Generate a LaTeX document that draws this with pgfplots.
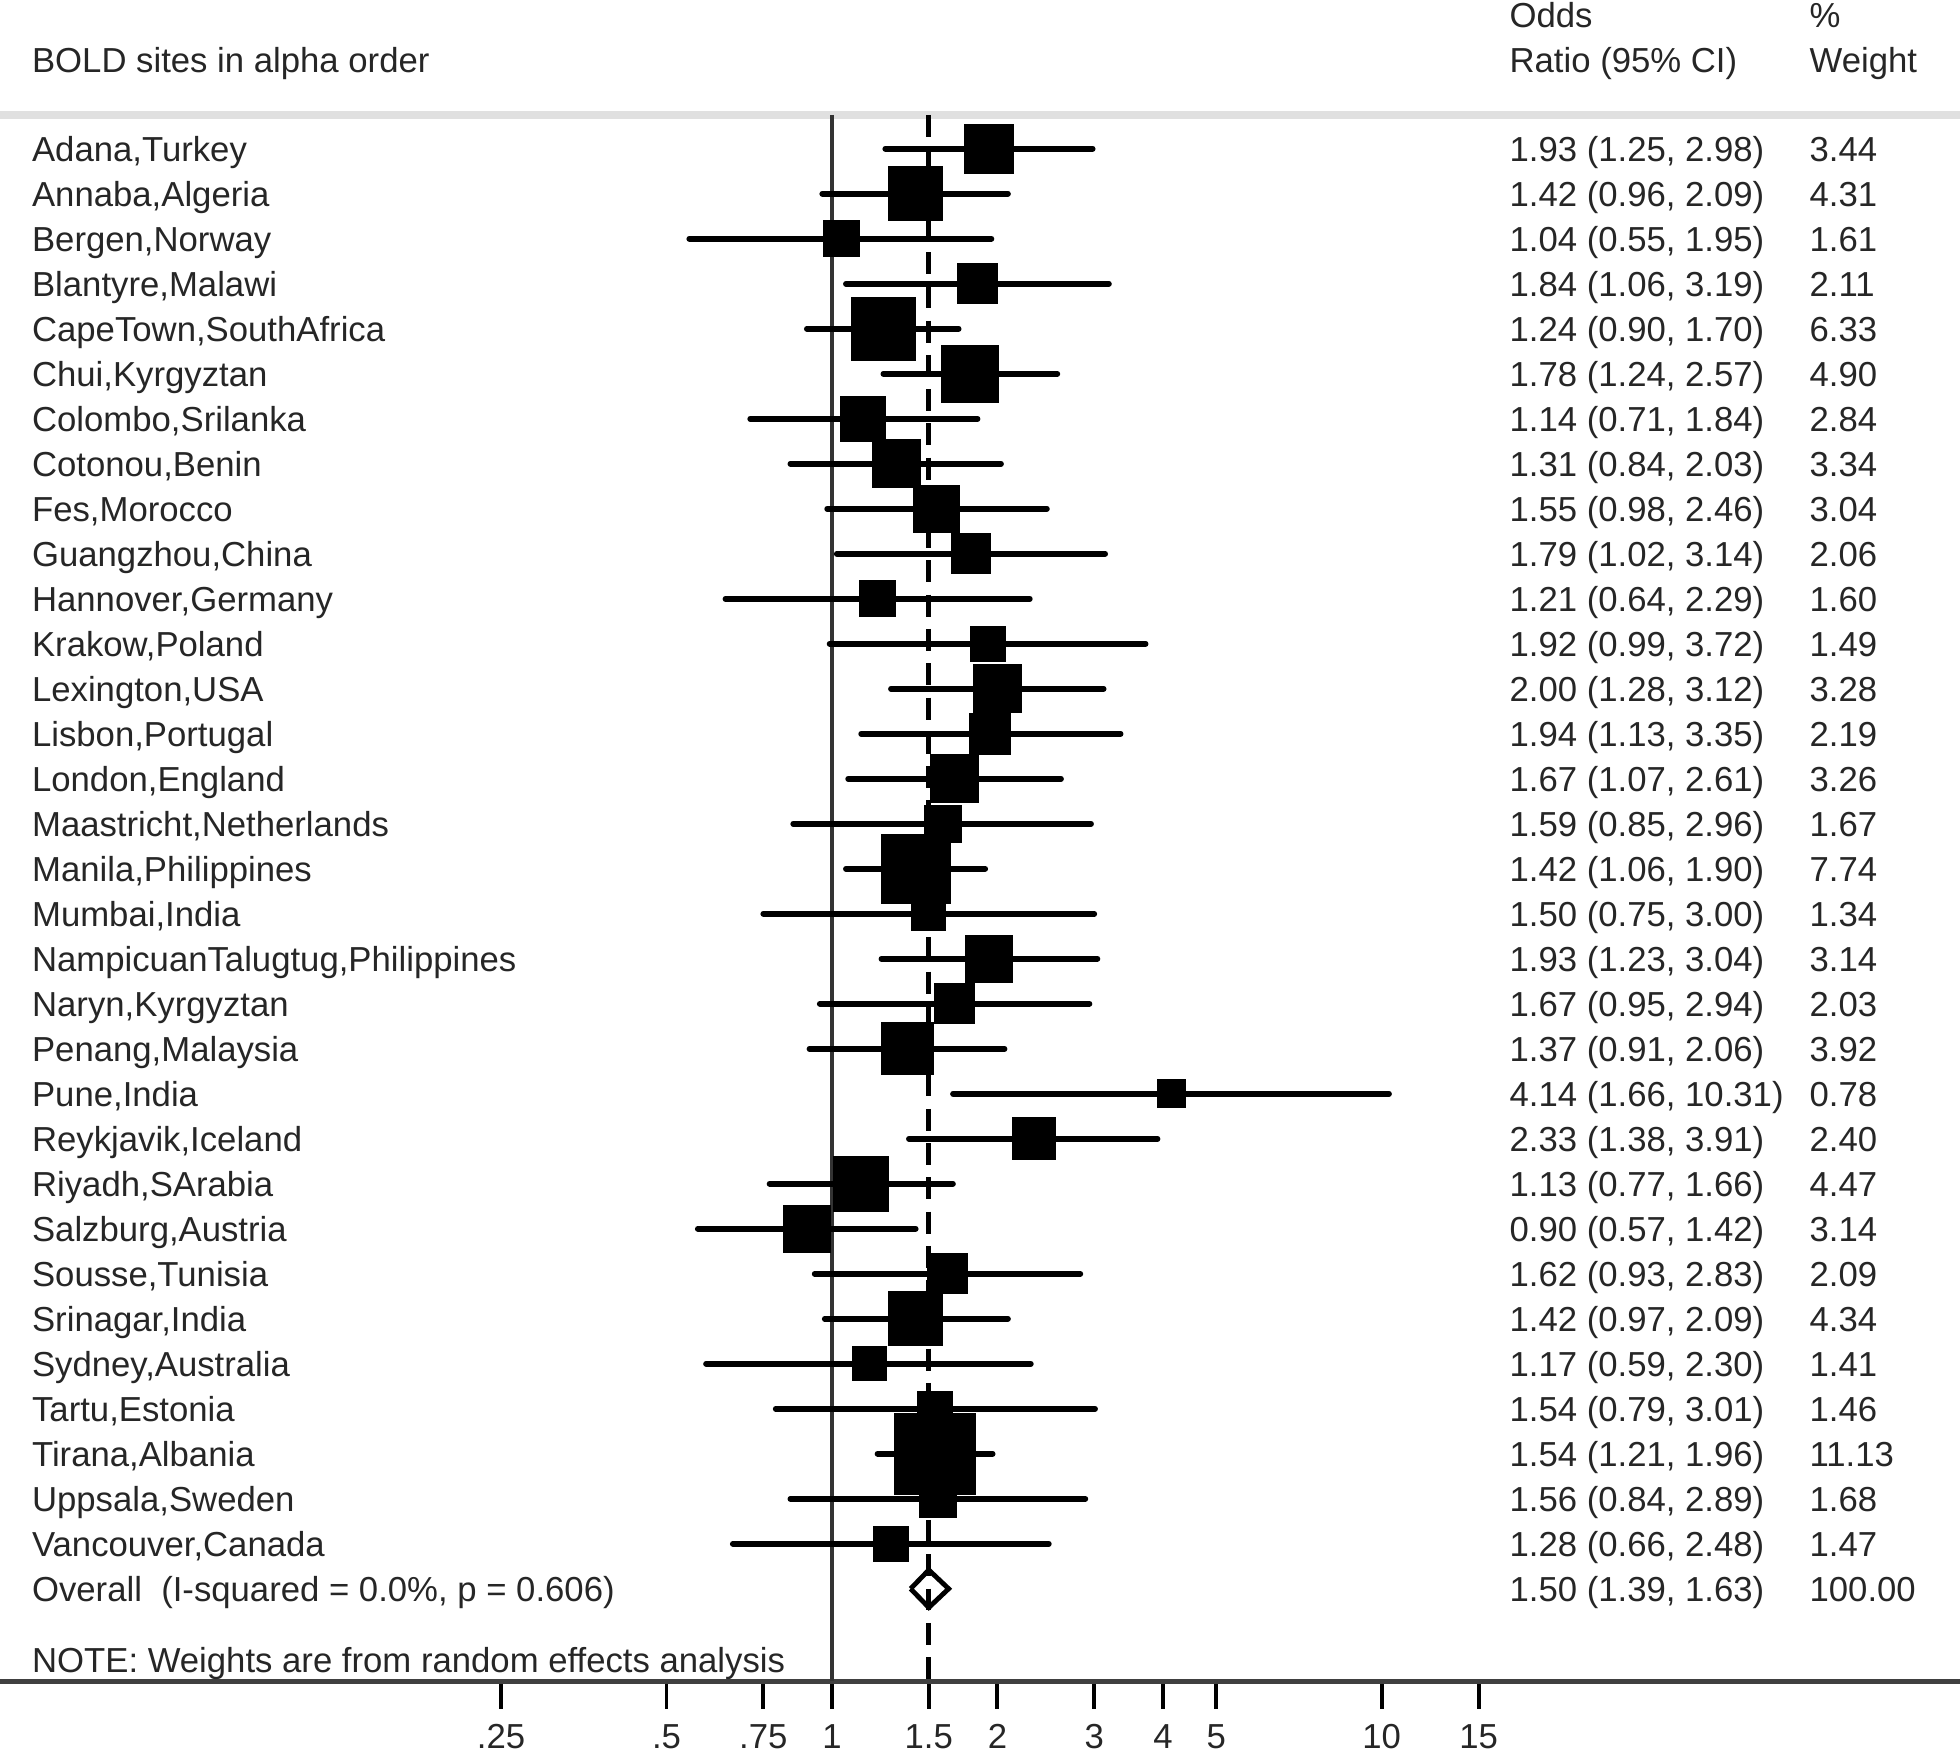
\documentclass[border=0pt]{standalone}
\usepackage{pgfplots}
\usepackage{pgfplotstable}
\pgfplotsset{compat=1.18}
\usepackage{fontspec}
\setmainfont{Liberation Sans}

% one row per site: row, odds ratio, 95% CI, weight, label, CI text
\pgfplotstableread[col sep=semicolon]{
row;or;lo;hi;w;site;ci
1;1.93;1.25;2.98;3.44;Adana,Turkey;1.93 (1.25, 2.98)
2;1.42;0.96;2.09;4.31;Annaba,Algeria;1.42 (0.96, 2.09)
3;1.04;0.55;1.95;1.61;Bergen,Norway;1.04 (0.55, 1.95)
4;1.84;1.06;3.19;2.11;Blantyre,Malawi;1.84 (1.06, 3.19)
5;1.24;0.90;1.70;6.33;CapeTown,SouthAfrica;1.24 (0.90, 1.70)
6;1.78;1.24;2.57;4.90;Chui,Kyrgyztan;1.78 (1.24, 2.57)
7;1.14;0.71;1.84;2.84;Colombo,Srilanka;1.14 (0.71, 1.84)
8;1.31;0.84;2.03;3.34;Cotonou,Benin;1.31 (0.84, 2.03)
9;1.55;0.98;2.46;3.04;Fes,Morocco;1.55 (0.98, 2.46)
10;1.79;1.02;3.14;2.06;Guangzhou,China;1.79 (1.02, 3.14)
11;1.21;0.64;2.29;1.60;Hannover,Germany;1.21 (0.64, 2.29)
12;1.92;0.99;3.72;1.49;Krakow,Poland;1.92 (0.99, 3.72)
13;2.00;1.28;3.12;3.28;Lexington,USA;2.00 (1.28, 3.12)
14;1.94;1.13;3.35;2.19;Lisbon,Portugal;1.94 (1.13, 3.35)
15;1.67;1.07;2.61;3.26;London,England;1.67 (1.07, 2.61)
16;1.59;0.85;2.96;1.67;Maastricht,Netherlands;1.59 (0.85, 2.96)
17;1.42;1.06;1.90;7.74;Manila,Philippines;1.42 (1.06, 1.90)
18;1.50;0.75;3.00;1.34;Mumbai,India;1.50 (0.75, 3.00)
19;1.93;1.23;3.04;3.14;NampicuanTalugtug,Philippines;1.93 (1.23, 3.04)
20;1.67;0.95;2.94;2.03;Naryn,Kyrgyztan;1.67 (0.95, 2.94)
21;1.37;0.91;2.06;3.92;Penang,Malaysia;1.37 (0.91, 2.06)
22;4.14;1.66;10.31;0.78;Pune,India;4.14 (1.66, 10.31)
23;2.33;1.38;3.91;2.40;Reykjavik,Iceland;2.33 (1.38, 3.91)
24;1.13;0.77;1.66;4.47;Riyadh,SArabia;1.13 (0.77, 1.66)
25;0.90;0.57;1.42;3.14;Salzburg,Austria;0.90 (0.57, 1.42)
26;1.62;0.93;2.83;2.09;Sousse,Tunisia;1.62 (0.93, 2.83)
27;1.42;0.97;2.09;4.34;Srinagar,India;1.42 (0.97, 2.09)
28;1.17;0.59;2.30;1.41;Sydney,Australia;1.17 (0.59, 2.30)
29;1.54;0.79;3.01;1.46;Tartu,Estonia;1.54 (0.79, 3.01)
30;1.54;1.21;1.96;11.13;Tirana,Albania;1.54 (1.21, 1.96)
31;1.56;0.84;2.89;1.68;Uppsala,Sweden;1.56 (0.84, 2.89)
32;1.28;0.66;2.48;1.47;Vancouver,Canada;1.28 (0.66, 2.48)
}\sites

\tikzset{lab/.style={font=\fontsize{7.9}{9}\selectfont, text=black!85,
  inner sep=0pt, anchor=base west, yshift=-2.83pt}}

\begin{document}
\begin{tikzpicture}
\path[use as bounding box] (0,0) rectangle (15.68,14.02);
\clip (0,0) rectangle (15.68,14.02);
\begin{axis}[
  at={(0,0.57cm)}, anchor=south west,
  scale only axis, width=15.68cm, height=13.45cm,
  xmode=log, xmin=0.030659, xmax=112.69,
  ymin=-35.056, ymax=2.3056,
  axis y line=none, axis x line=bottom,
  x axis line style={-, black!75, line width=1.2pt},
  xtick={0.25,0.5,0.75,1,1.5,2,3,4,5,10,15},
  xticklabels={.25,.5,.75,1,1.5,2,3,4,5,10,15},
  minor xtick={},
  tick align=outside, major tick length=0.22cm,
  major tick style={black, line width=0.9pt},
  xticklabel style={font=\fontsize{7.9}{9}\selectfont, text=black!85},
  clip=false,
]
% header rule, null line and overall line
\addplot[black!12, line width=1.7pt] coordinates {(0.030659,-0.25) (112.69,-0.25)};
\addplot[black!80, line width=1pt] coordinates {(1,-0.25) (1,-35.056)};
\addplot[black, line width=1.2pt, dash pattern=on 5pt off 2.8pt] coordinates {(1.5,-0.25) (1.5,-35.056)};

% confidence intervals
\addplot[only marks, mark=none,
  error bars/x dir=both, error bars/x explicit,
  error bars/error mark=none,
  error bars/error bar style={black, line width=1.3pt, line cap=round}]
  table[x=or, y expr=-\thisrow{row},
        x error plus expr=\thisrow{hi}-\thisrow{or},
        x error minus expr=\thisrow{or}-\thisrow{lo}] {\sites};

% weighted squares
\addplot[scatter, only marks, mark=square*,
  scatter/use mapped color={draw=black, fill=black},
  visualization depends on={0.87+2.49*sqrt(\thisrow{w}) \as \msz},
  scatter/@pre marker code/.append style={/tikz/mark size=\msz pt}]
  table[x=or, y expr=-\thisrow{row}] {\sites};

% overall diamond
\addplot[black, line width=1.1pt] coordinates {
  (1.39,-33) (1.50,-32.583) (1.63,-33) (1.50,-33.417) (1.39,-33)};

% text columns
\addplot[draw=none, mark=none, nodes near coords, point meta=explicit symbolic,
  every node near coord/.append style={lab}]
  table[x expr=0.034946, y expr=-\thisrow{row}, meta=site] {\sites};
\addplot[draw=none, mark=none, nodes near coords, point meta=explicit symbolic,
  every node near coord/.append style={lab}]
  table[x expr=17.024, y expr=-\thisrow{row}, meta=ci] {\sites};
\addplot[draw=none, mark=none, nodes near coords, point meta=explicit symbolic,
  every node near coord/.append style={lab}]
  table[x expr=59.806, y expr=-\thisrow{row}, meta=w] {\sites};

\node[lab] at (axis cs:0.034946,0.972) {BOLD sites in alpha order};
\node[lab] at (axis cs:17.024,1.972) {Odds};
\node[lab] at (axis cs:17.024,0.972) {Ratio (95\% CI)};
\node[lab] at (axis cs:59.806,1.972) {\%};
\node[lab] at (axis cs:59.806,0.972) {Weight};
\node[lab] at (axis cs:0.034946,-33) {Overall\ \ (I-squared = 0.0\%, p = 0.606)};
\node[lab] at (axis cs:17.024,-33) {1.50 (1.39, 1.63)};
\node[lab] at (axis cs:59.806,-33) {100.00};
\node[lab] at (axis cs:0.034946,-34.58) {NOTE: Weights are from random effects analysis};
\end{axis}
\end{tikzpicture}
\end{document}
